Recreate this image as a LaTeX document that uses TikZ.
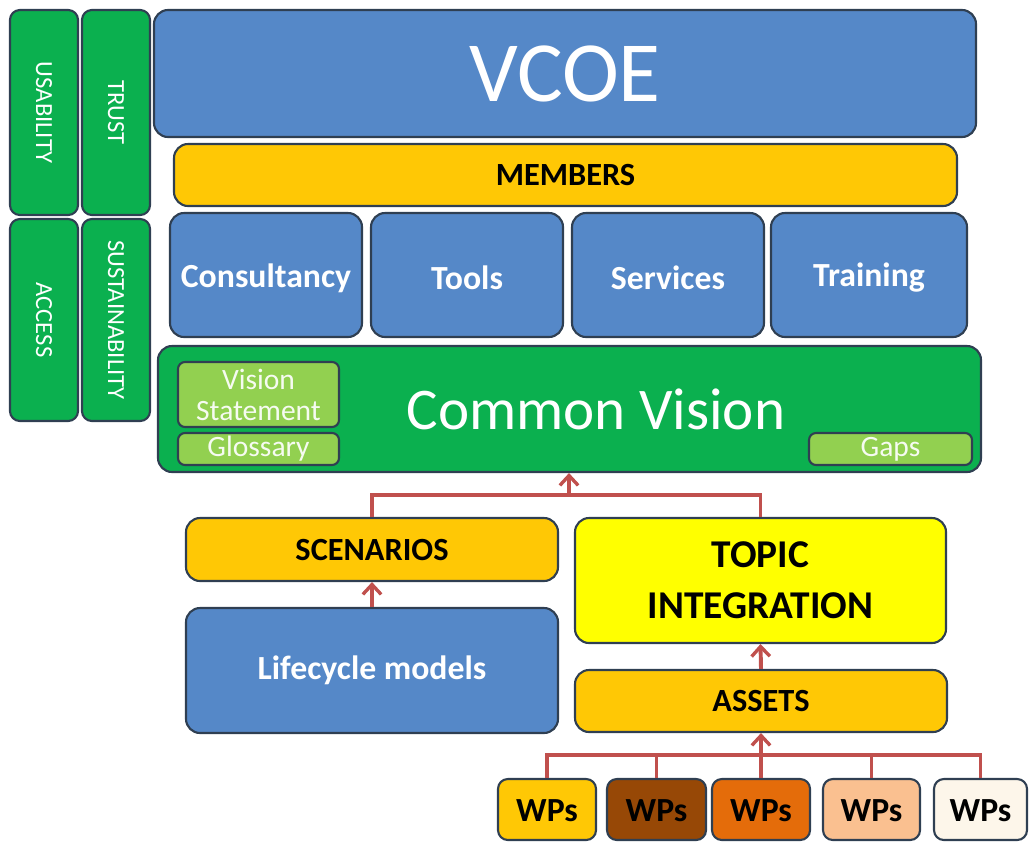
\documentclass[tikz,border=0pt]{standalone}
\usepackage{fontspec}
\setmainfont{Carlito}
\usetikzlibrary{fit,arrows.meta}

\definecolor{edge}{HTML}{2F3F52}
\definecolor{boxblue}{HTML}{5588C8}
\definecolor{boxgreen}{HTML}{0BB04F}
\definecolor{lightgreen}{HTML}{92D050}
\definecolor{gold}{HTML}{FFC805}
\definecolor{lemon}{HTML}{FFFF00}
\definecolor{brown}{HTML}{974806}
\definecolor{carrot}{HTML}{E46C0A}
\definecolor{peach}{HTML}{FAC090}
\definecolor{cream}{HTML}{FDF6EA}
\definecolor{linkred}{HTML}{C0504D}

\begin{document}
\begin{tikzpicture}[x=0.025cm, y=-0.025cm,
	tile/.style={draw=edge, line width=1.5pt, rounded corners=10pt, inner sep=0pt},
	bluetile/.style={tile, fill=boxblue},
	goldtile/.style={tile, fill=gold},
	pillar/.style={tile, rounded corners=7pt, fill=boxgreen},
	pillartext/.style={rotate=-90, text=white, font=\fontsize{17.5}{19}\selectfont},
	note/.style={tile, rounded corners=5pt, fill=lightgreen},
	notetext/.style={text=white!92!lightgreen, align=center, font=\fontsize{21}{23}\selectfont},
	bluetext/.style={text=white, font=\bfseries\fontsize{24}{28}\selectfont},
	darktext/.style={font=\bfseries\fontsize{23}{28}\selectfont},
	wp/.style={tile, rounded corners=7pt},
	link/.style={draw=linkred, line width=2.8pt},
	up/.style={link, -{Straight Barb[length=7pt, width=13pt, line width=2.4pt]}}]
	\useasboundingbox (0,0) rectangle (1029,843);

	% pillars on the left
	\node [pillar, fit={(10,10) (78,215)}, label={[pillartext]center:USABILITY}] (usab) {};
	\node [pillar, fit={(10,219) (78,421)}, label={[pillartext]center:ACCESS}] (access) {};
	\node [pillar, fit={(82,10) (150,215)}, label={[pillartext]center:TRUST}] (trust) {};
	\node [pillar, fit={(82,219) (150,421)}, label={[pillartext]center:SUSTAINABILITY}] (sust) {};

	% top block
	\node [bluetile, fit={(154,10) (976,137)}] (vcoe) {};
	\node [text=white, font=\fontsize{61}{64}\selectfont] (vcoetext) at (vcoe.center) {VCOE};
	\node [goldtile, fit={(174,144) (957,206)}] (members) {};
	\node [darktext] (memberstext) at (members.center) {MEMBERS};

	\node [bluetile, fit={(170,213) (362,337)}] (consult) {};
	\node [bluetile, fit={(371,213) (563,337)}] (tools) {};
	\node [bluetile, fit={(572,213) (764,337)}] (services) {};
	\node [bluetile, fit={(771,213) (967,337)}] (training) {};
	\node [bluetext] at ([yshift=-2pt]consult.center) (consultlbl) {Consultancy};
	\node [bluetext] at ([yshift=-2pt]tools.center) (toolslbl) {Tools};
	\node [bluetext] at ([yshift=-2pt]services.center) (serviceslbl) {Services};
	\node [bluetext] at ([yshift=-2pt]training.center) (traininglbl) {Training};

	% common vision
	\node [tile, fill=boxgreen, fit={(158,346) (981,472)}] (vision) {};
	\node [text=white, font=\fontsize{42}{46}\selectfont] (visiontext) at (596,409) {Common Vision};
	\node [note, fit={(178,362) (339,427)}] (statement) {};
	\node [notetext, inner sep=0pt] (statementtext) at (statement.center) {Vision\\[-1pt]Statement};
	\node [note, fit={(178,433) (339,465)}] (glossary) {};
	\node [notetext] (glossarytext) at (glossary.center) {Glossary};
	\node [note, fit={(809,433) (972,465)}] (gaps) {};
	\node [notetext] (gapstext) at (gaps.center) {Gaps};

	% lower blocks
	\node [goldtile, fit={(186,518) (558,581)}] (scen) {};
	\node [darktext] (scentext) at (scen.center) {SCENARIOS};
	\node [bluetile, fit={(186,608) (558,733)}] (life) {};
	\node [bluetext] (lifetext) at (life.center) {Lifecycle models};
	\node [tile, fill=lemon, fit={(575,518) (946,643)}] (topic) {};
	\node [align=center, font=\bfseries\fontsize{28}{36}\selectfont] (topictext) at (topic.center) {TOPIC\\INTEGRATION};
	\node [goldtile, fit={(575,670) (947,732)}] (assets) {};
	\node [darktext] (assetstext) at (assets.center) {ASSETS};

	% work packages
	\node [wp, fill=gold,   fit={(498,779) (596,840)}] (wp1) {};
	\node [wp, fill=brown,  fit={(607,779) (706,840)}] (wp2) {};
	\node [wp, fill=carrot, fit={(712,779) (810,840)}] (wp3) {};
	\node [wp, fill=peach,  fit={(823,779) (920,840)}] (wp4) {};
	\node [wp, fill=cream,  fit={(934,779) (1027,840)}] (wp5) {};
	\foreach \w in {wp1,wp2,wp3,wp4,wp5}
		\node [font=\bfseries\fontsize{24}{28}\selectfont] (\w text) at ([yshift=-1pt]\w.center) {WPs};

	% connectors
	\coordinate (cvjoin) at (569,495);
	\coordinate (wpbus) at (761,755);
	\draw [link] (scen.north) |- (cvjoin);
	\draw [link] (topic.north) |- (cvjoin);
	\draw [up] (cvjoin) -- (cvjoin |- vision.south);
	\draw [up] (life.north) -- (scen.south);
	\draw [up] (assets.north) -- (topic.south);
	\draw [link] (wp1.north) |- (wpbus);
	\draw [link] (wp5.north) |- (wpbus);
	\draw [link] (wp2.north) -- (wp2.north |- wpbus);
	\draw [link] (wp4.north) -- (wp4.north |- wpbus);
	\draw [up] (wp3.north) -- (assets.south);
\end{tikzpicture}
\end{document}
